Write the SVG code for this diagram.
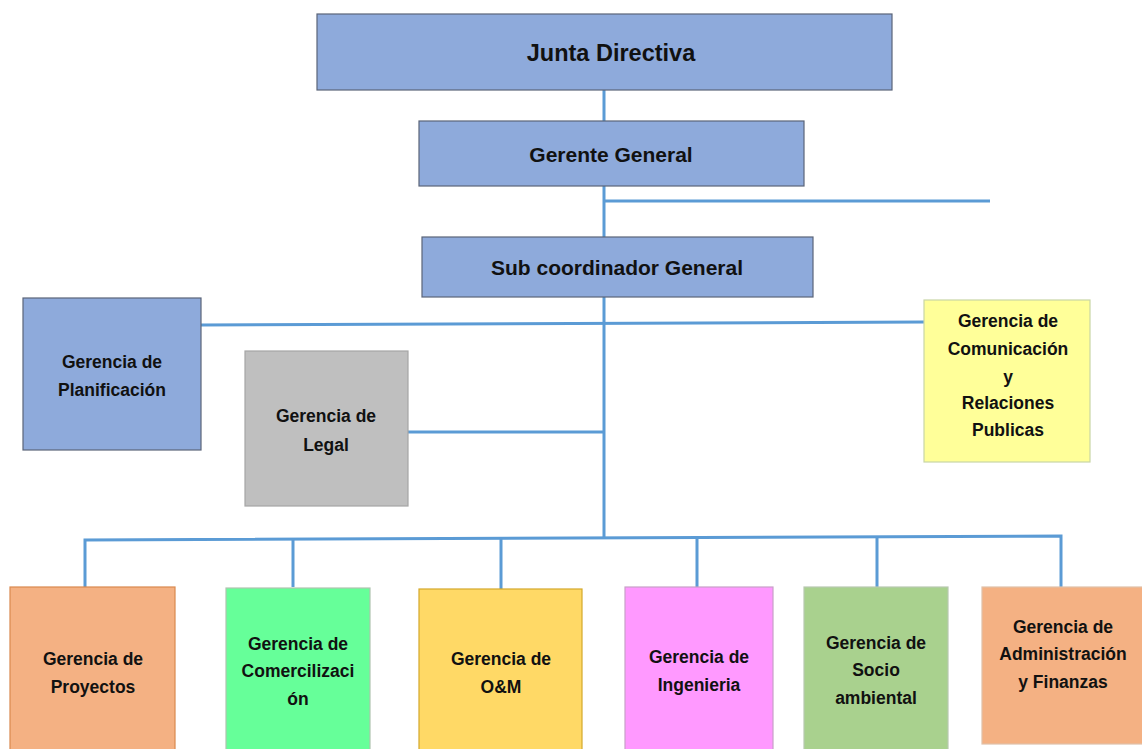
<svg xmlns="http://www.w3.org/2000/svg" width="1142" height="749" viewBox="0 0 1142 749">
<style>
.t{font-family:"Liberation Sans",Arial,sans-serif;font-weight:bold;fill:#111;text-anchor:middle}
.s{font-size:17.5px}
.m{font-size:21px}
.b{stroke-width:1.2}
.c{fill:none;stroke:#5b9bd5;stroke-width:3}
</style>
<rect width="1142" height="749" fill="#fff"/>
<g id="connectors">
<path class="c" d="M604 90V537"/>
<path class="c" d="M604 201H990"/>
<path class="c" d="M201 325L924 322"/>
<path class="c" d="M408 432H604"/>
<path class="c" d="M85 587V540L1061 536V587"/>
<path class="c" d="M293 587V539M501 589V538M697 587V537M877 587V537"/>
</g>
<g id="junta"><rect x="317" y="14" width="575" height="76" fill="#8eaadb" stroke="#5a6478" class="b"/><text class="t" x="611" y="61" font-size="23.5">Junta Directiva</text></g>
<g id="gerente"><rect x="419" y="121" width="385" height="65" fill="#8eaadb" stroke="#5a6478" class="b"/><text class="t m" x="611" y="162">Gerente General</text></g>
<g id="sub"><rect x="422" y="237" width="391" height="60" fill="#8eaadb" stroke="#5a6478" class="b"/><text class="t m" x="617" y="275">Sub coordinador General</text></g>
<g id="planificacion"><rect x="23" y="298" width="178" height="152" fill="#8eaadb" stroke="#5a6478" class="b"/><text class="t s" x="112" y="368">Gerencia de</text><text class="t s" x="112" y="396">Planificación</text></g>
<g id="legal"><rect x="245" y="351" width="163" height="155" fill="#bfbfbf" stroke="#a6a6a6" class="b"/><text class="t s" x="326" y="422">Gerencia de</text><text class="t s" x="326" y="451">Legal</text></g>
<g id="comunicacion"><rect x="924" y="300" width="166" height="162" fill="#ffff99" stroke="#c9d6a6" class="b"/><text class="t s" x="1008" y="327">Gerencia de</text><text class="t s" x="1008" y="355">Comunicación</text><text class="t s" x="1008" y="383">y</text><text class="t s" x="1008" y="409">Relaciones</text><text class="t s" x="1008" y="436">Publicas</text></g>
<g id="proyectos"><rect x="10" y="587" width="165" height="170" fill="#f4b183" stroke="#d9894f" class="b"/><text class="t s" x="93" y="665">Gerencia de</text><text class="t s" x="93" y="693">Proyectos</text></g>
<g id="comercializacion"><rect x="226" y="588" width="144" height="170" fill="#66ff99" stroke="#b0c4b0" class="b"/><text class="t s" x="298" y="650">Gerencia de</text><text class="t s" x="298" y="677">Comercilizaci</text><text class="t s" x="298" y="705">ón</text></g>
<g id="om"><rect x="419" y="589" width="163" height="170" fill="#ffd966" stroke="#d4a82a" class="b"/><text class="t s" x="501" y="665">Gerencia de</text><text class="t s" x="501" y="693">O&amp;M</text></g>
<g id="ingenieria"><rect x="625" y="587" width="148" height="170" fill="#ff99ff" stroke="#c9a0c9" class="b"/><text class="t s" x="699" y="663">Gerencia de</text><text class="t s" x="699" y="691">Ingenieria</text></g>
<g id="socio"><rect x="804" y="587" width="144" height="170" fill="#a9d18e" stroke="#b8c8b0" class="b"/><text class="t s" x="876" y="649">Gerencia de</text><text class="t s" x="876" y="676">Socio</text><text class="t s" x="876" y="704">ambiental</text></g>
<g id="administracion"><rect x="982" y="587" width="165" height="157" fill="#f4b183" stroke="#e0c0a8" class="b"/><text class="t s" x="1063" y="633">Gerencia de</text><text class="t s" x="1063" y="660">Administración</text><text class="t s" x="1063" y="688">y Finanzas</text></g>
</svg>
